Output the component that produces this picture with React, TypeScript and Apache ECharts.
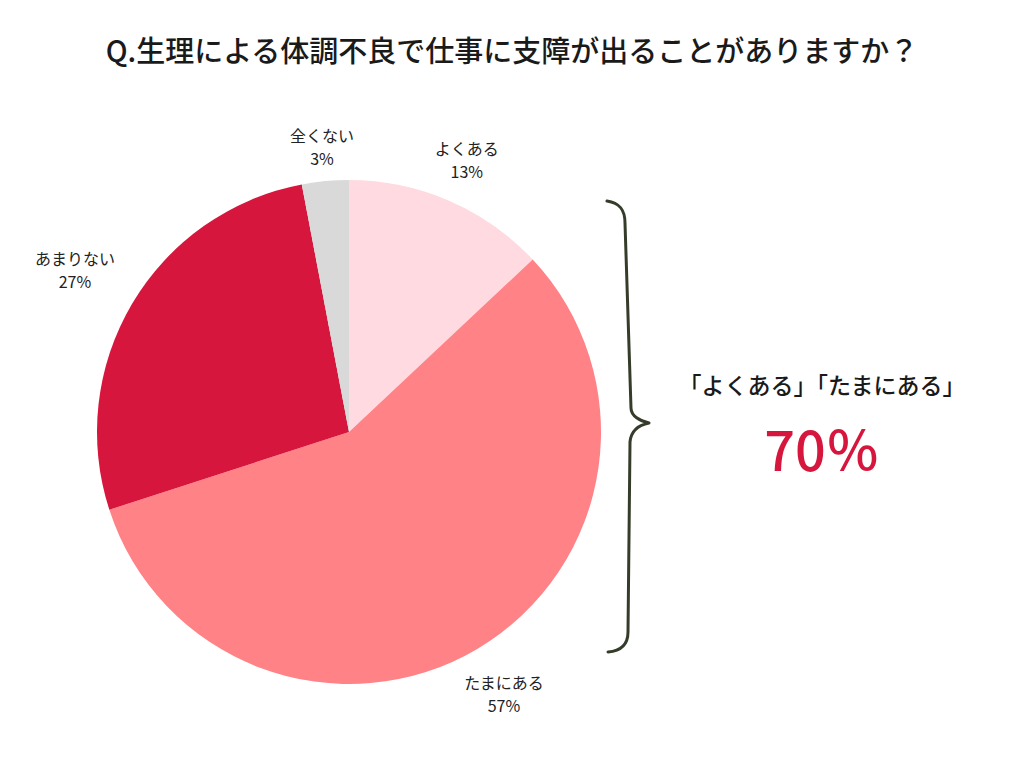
import { useEffect, useRef } from 'react'
import * as echarts from 'echarts'

const titleText = 'Q.生理による体調不良で仕事に支障が出ることがありますか？'
const categories = ['よくある', 'たまにある', 'あまりない', '全くない']
const percentages = [13, 57, 27, 3]
const sliceColors = ['#FFDAE0', '#FF8286', '#D6163C', '#D9D9D9']
const summaryLabel = '「よくある」「たまにある」'
const summaryValue = percentages[0] + percentages[1]

const CX = 349
const CY = 432
const RADIUS = 252

// curly brace on the right of the pie
const braceD =
  'M607,201 C620,203 625,210 625,223 L631,408 C631,416 640,421 649,423 C639,425 631,431 630,442 L628,632 C628,645 620,651 608,652'
echarts.graphic.registerShape('brace', echarts.graphic.extendPath(braceD, {}) as any)

export default function App() {
  const chartRef = useRef<HTMLDivElement>(null)

  useEffect(() => {
    if (!chartRef.current) return
    const chart = echarts.init(chartRef.current, null, { renderer: 'svg' })
    const font = '"Noto Sans CJK JP", "Noto Sans", sans-serif'
    const total = percentages.reduce((a, b) => a + b, 0)

    const option: echarts.EChartsOption = {
      animation: false,
      backgroundColor: '#ffffff',
      title: {
        text: titleText,
        left: 'center',
        top: 29,
        textStyle: { fontSize: 29, fontWeight: 500, color: '#1a1a1a', fontFamily: font },
      },
      series: [
        {
          type: 'pie',
          center: [CX, CY],
          radius: [0, RADIUS],
          startAngle: 90,
          clockwise: true,
          silent: true,
          data: categories.map((name, i) => ({
            name,
            value: percentages[i],
            itemStyle: { color: sliceColors[i] },
          })),
          label: {
            show: true,
            position: 'outside',
            formatter: '{b}\n{c}%',
            fontSize: 16,
            lineHeight: 23,
            color: '#222222',
            fontFamily: font,
            overflow: 'none',
          },
          labelLine: { show: false },
          labelLayout: (params: any) => {
            const i = params.dataIndex
            let before = 0
            for (let k = 0; k < i; k++) before += percentages[k]
            const a = ((before + percentages[i] / 2) / total) * Math.PI * 2
            const hw = params.labelRect.width / 2
            const r = RADIUS + 32 + Math.abs(Math.sin(a)) * hw
            return {
              x: CX + r * Math.sin(a),
              y: CY - r * Math.cos(a),
              align: 'center',
              verticalAlign: 'middle',
            }
          },
        },
      ],
      graphic: [
        {
          type: 'brace',
          x: 0,
          y: 0,
          scaleX: 1,
          scaleY: 1,
          style: { fill: 'none', stroke: '#353D2A', lineWidth: 3, lineCap: 'round', lineJoin: 'round' },
        } as any,
        {
          type: 'text',
          x: 822,
          y: 384,
          style: {
            text: summaryLabel,
            fontSize: 23,
            fontWeight: 500,
            fill: '#1a1a1a',
            fontFamily: font,
            align: 'center',
            verticalAlign: 'middle',
          },
        },
        {
          type: 'text',
          x: 822,
          y: 447,
          style: {
            text: `${summaryValue}％`,
            fontSize: 54,
            fontWeight: 500,
            fill: '#D6163C',
            fontFamily: font,
            align: 'center',
            verticalAlign: 'middle',
          },
        },
      ],
    }

    chart.setOption(option)
    return () => {
      chart.dispose()
    }
  }, [])

  return (
    <div
      ref={chartRef}
      style={{ position: 'absolute', left: 0, top: 0, width: '1024px', height: '768px' }}
    />
  )
}
